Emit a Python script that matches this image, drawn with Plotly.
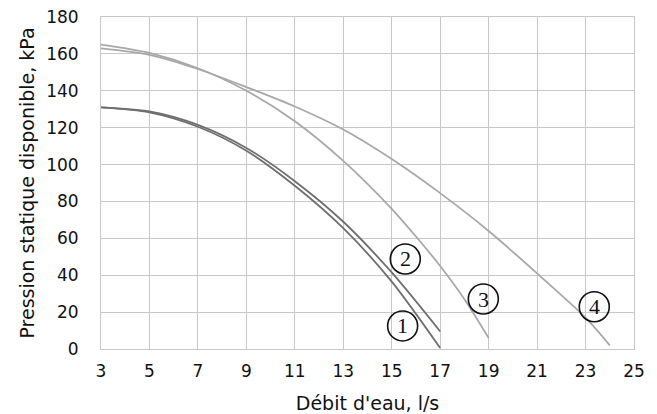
import plotly.graph_objects as go

# Water flow (l/s) and available static pressure (kPa) for the four pump curves
flow_1 = [3, 5, 7, 9, 11, 13, 15, 17]
pressure_1 = [131, 128.3, 120.5, 107.5, 88.5, 65.5, 36.5, 0.5]

flow_2 = [3, 5, 7, 9, 11, 13, 15, 17]
pressure_2 = [131, 128.8, 121.5, 109, 91, 69, 41.5, 9.5]

flow_3 = [3, 5, 7, 9, 11, 13, 15, 16, 17, 18, 19]
pressure_3 = [165, 160.5, 152.2, 140, 123.5, 102, 76, 61, 45, 27, 6]

flow_4 = [3, 5, 7, 9, 11, 13, 15, 17, 19, 21, 23, 24]
pressure_4 = [163, 159.5, 151.8, 142, 131.5, 119, 103, 84.5, 64, 41, 17, 2]

curve_names = ["1", "2", "3", "4"]
x_ticks = [3, 5, 7, 9, 11, 13, 15, 17, 19, 21, 23, 25]
y_ticks = [0, 20, 40, 60, 80, 100, 120, 140, 160, 180]

# where each circled curve number sits (flow, pressure)
label_flow = [15.45, 15.56, 18.78, 23.36]
label_pressure = [12.5, 48.8, 27.1, 22.9]

DARK = "#6f6f6f"
LIGHT = "#a8a8a8"
GRID = "#c8c8c8"
TEXT = "#111111"

series = [
    (flow_1, pressure_1, DARK),
    (flow_2, pressure_2, DARK),
    (flow_3, pressure_3, LIGHT),
    (flow_4, pressure_4, LIGHT),
]

fig = go.Figure()
for (xs, ys, col), name in zip(series, curve_names):
    fig.add_trace(go.Scatter(
        x=xs, y=ys, mode="lines", name=name,
        line=dict(color=col, width=1.8, shape="spline", smoothing=0.8),
        showlegend=False, hoverinfo="skip",
    ))

# circled curve numbers
for name, lx, ly in zip(curve_names, label_flow, label_pressure):
    fig.add_shape(
        type="circle", xref="x", yref="y",
        xsizemode="pixel", ysizemode="pixel",
        xanchor=lx, yanchor=ly,
        x0=-15, x1=15, y0=-15, y1=15,
        line=dict(color="#111111", width=1.6),
        fillcolor="rgba(255,255,255,0)",
    )
    fig.add_annotation(
        x=lx, y=ly, text=name, showarrow=False,
        font=dict(family="Liberation Serif", size=22, color="#111111"),
        xanchor="center", yanchor="middle",
    )

fig.update_layout(
    width=657, height=414,
    margin=dict(l=101, r=23, t=17, b=65),
    paper_bgcolor="white", plot_bgcolor="white",
    font=dict(family="DejaVu Sans", size=17, color=TEXT),
)

fig.update_xaxes(
    range=[3, 25], tickvals=x_ticks, ticktext=[str(v) for v in x_ticks],
    showgrid=True, gridcolor=GRID, gridwidth=1,
    showline=True, linecolor=GRID, linewidth=1, mirror=True,
    zeroline=False, ticks="", ticklabelstandoff=7, automargin=False,
    tickfont=dict(family="DejaVu Sans", size=17, color=TEXT),
    title=dict(text="Débit d'eau, l/s", standoff=16,
               font=dict(family="DejaVu Sans", size=19, color=TEXT)),
)
fig.update_yaxes(
    range=[0, 180], tickvals=y_ticks, ticktext=[str(v) for v in y_ticks],
    showgrid=True, gridcolor=GRID, gridwidth=1,
    showline=True, linecolor=GRID, linewidth=1, mirror=True,
    zeroline=False, ticks="", ticklabelstandoff=18, automargin=False,
    tickfont=dict(family="DejaVu Sans", size=17, color=TEXT),
    title=dict(text="Pression statique disponible, kPa", standoff=6,
               font=dict(family="DejaVu Sans", size=19, color=TEXT)),
)

fig.write_html("out.html")
